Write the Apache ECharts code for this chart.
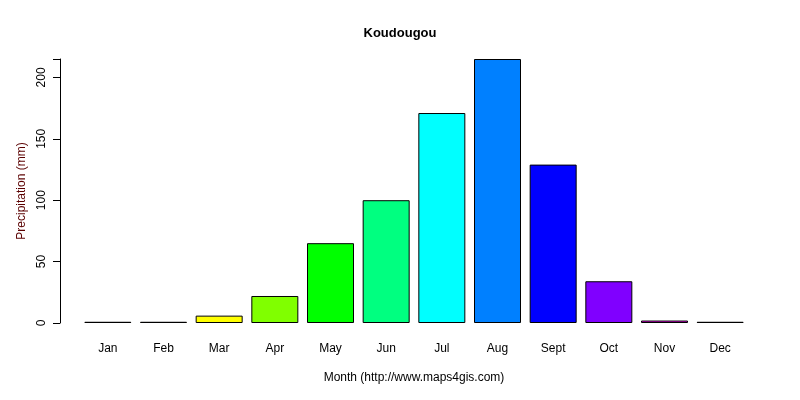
<!DOCTYPE html>
<html><head><meta charset="utf-8">
<script src="https://cdn.jsdelivr.net/npm/echarts@6/dist/echarts.min.js"></script>
<style>html,body{margin:0;background:#fff}#c{width:800px;height:400px}</style>
</head><body><div id="c"></div>
<script>
const months = ['Jan','Feb','Mar','Apr','May','Jun','Jul','Aug','Sept','Oct','Nov','Dec'];
const precipitation = [1,1,6,22,65,100,171,215,129,34,2,1];
const barColors = ['#FF0000','#FF8000','#FFFF00','#80FF00','#00FF00','#00FF80','#00FFFF','#0080FF','#0000FF','#8000FF','#FF00FF','#FF0080'];
const yTicks = [0,50,100,150,200];
const chart = echarts.init(document.getElementById('c'));
chart.setOption({
  animation:false,
  title:{text:'Koudougou',left:'center',top:22,textStyle:{fontSize:13,fontWeight:'bold',color:'#000',fontFamily:'Arial'}},
  grid:{left:80,right:52,top:59,bottom:77},
  xAxis:{type:'category',data:months,axisLine:{show:false},axisTick:{show:false},
    axisLabel:{color:'#000',fontSize:12,fontFamily:'Arial',margin:20},
    name:'Month (http://www.maps4gis.com)',nameLocation:'middle',nameGap:49,
    nameTextStyle:{color:'#000',fontSize:12,fontFamily:'Arial'}},
  yAxis:{type:'value',min:0,max:215,interval:50,offset:20,
    axisLine:{show:true,lineStyle:{color:'#000'}},axisTick:{show:true,length:7,lineStyle:{color:'#000'}},
    splitLine:{show:false},
    axisLabel:{rotate:90,color:'#000',fontSize:12,fontFamily:'Arial',margin:12,
      formatter:v=>yTicks.includes(v)?String(v):''},
    name:'Precipitation (mm)',nameLocation:'middle',nameGap:28,
    nameTextStyle:{color:'#5a0000',fontSize:12,fontFamily:'Arial'}},
  series:[{type:'bar',barWidth:47,
    data:precipitation.map((v,i)=>({value:v,itemStyle:{color:barColors[i]}})),
    itemStyle:{borderColor:'#000',borderWidth:1}}]
});
</script></body></html>
